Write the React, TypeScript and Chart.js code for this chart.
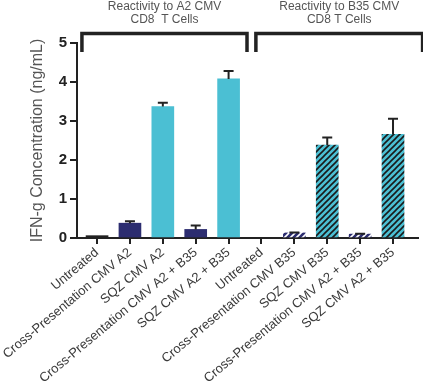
import React, { useEffect, useRef } from "react";
import { Chart, registerables } from "chart.js";

Chart.register(...registerables);

const categories = [
  "Untreated",
  "Cross-Presentation CMV A2",
  "SQZ CMV A2",
  "Cross-Presentation CMV A2 + B35",
  "SQZ CMV A2 + B35",
  "Untreated",
  "Cross-Presentation CMV B35",
  "SQZ CMV B35",
  "Cross-Presentation CMV A2 + B35",
  "SQZ CMV A2 + B35",
];
const values = [0.06, 0.38, 3.37, 0.22, 4.08, 0, 0.13, 2.38, 0.1, 2.66];
const errors = [0.0, 0.05, 0.1, 0.1, 0.2, 0, 0.01, 0.2, 0.01, 0.4];
const barKinds = ["black", "navy", "cyan", "navy", "cyan", "black", "navyHatch", "cyanHatch", "navyHatch", "cyanHatch"];
const groupTitles = [
  ["Reactivity to A2 CMV", "CD8  T Cells"],
  ["Reactivity to B35 CMV", "CD8 T Cells"],
];
const yTicks = [0, 1, 2, 3, 4, 5];

const NAVY = "#2c2d70";
const CYAN = "#4bbfd3";
const DARK = "#222222";

function makeHatch(bg: string, line: string): CanvasPattern | string {
  const c = document.createElement("canvas");
  c.width = 6;
  c.height = 6;
  const g = c.getContext("2d");
  if (!g) return bg;
  g.fillStyle = bg;
  g.fillRect(0, 0, 6, 6);
  g.strokeStyle = line;
  g.lineWidth = 1.6;
  g.beginPath();
  g.moveTo(0, 6);
  g.lineTo(6, 0);
  g.moveTo(-1, 1);
  g.lineTo(1, -1);
  g.moveTo(5, 7);
  g.lineTo(7, 5);
  g.stroke();
  const p = g.createPattern(c, "repeat");
  return p || bg;
}

export default function App() {
  const ref = useRef<HTMLCanvasElement>(null);
  useEffect(() => {
    document.body.style.margin = "0";
    const canvas = ref.current;
    if (!canvas) return;
    const colorMap: Record<string, any> = {
      black: DARK,
      navy: NAVY,
      cyan: CYAN,
      navyHatch: makeHatch(NAVY, "#ffffff"),
      cyanHatch: makeHatch(CYAN, "#1a1a1a"),
    };
    const font = "'Liberation Sans', Arial, Helvetica, sans-serif";

    const errorBars = {
      id: "errorBars",
      afterDatasetsDraw(chart: any) {
        const ctx = chart.ctx;
        const meta = chart.getDatasetMeta(0);
        const y = chart.scales.y;
        ctx.save();
        ctx.strokeStyle = "#222";
        ctx.lineWidth = 2;
        meta.data.forEach((bar: any, i: number) => {
          if (!values[i] || !errors[i]) return;
          const x = bar.x;
          const y0 = y.getPixelForValue(values[i]);
          const y1 = y.getPixelForValue(values[i] + errors[i]);
          ctx.beginPath();
          ctx.moveTo(x, y0);
          ctx.lineTo(x, y1);
          ctx.moveTo(x - 5, y1);
          ctx.lineTo(x + 5, y1);
          ctx.stroke();
        });
        ctx.restore();
      },
    };

    const brackets = {
      id: "brackets",
      afterDraw(chart: any) {
        const ctx = chart.ctx;
        const x = chart.scales.x;
        const top = chart.chartArea.top;
        const spans = [
          [-0.46, 4.56],
          [4.83, 9.9],
        ];
        ctx.save();
        ctx.strokeStyle = "#222";
        ctx.lineWidth = 3.5;
        ctx.lineCap = "butt";
        spans.forEach((s, k) => {
          const xa = x.getPixelForValue(s[0]);
          const xb = x.getPixelForValue(s[1]);
          ctx.beginPath();
          ctx.moveTo(xa, top + 9);
          ctx.lineTo(xa, top - 9.5);
          ctx.lineTo(xb, top - 9.5);
          ctx.lineTo(xb, top + 9);
          ctx.stroke();
          const cx = (xa + xb) / 2;
          ctx.fillStyle = "#555";
          ctx.font = "12px " + font;
          ctx.textAlign = "center";
          ctx.textBaseline = "middle";
          ctx.fillText(groupTitles[k][0], cx, 7);
          ctx.fillText(groupTitles[k][1], cx, 20);
        });
        ctx.restore();
      },
    };

    const chart = new Chart(canvas, {
      type: "bar",
      data: {
        datasets: [
          {
            data: values.map((v, i) => ({ x: i, y: v })),
            backgroundColor: barKinds.map((k) => colorMap[k]),
            borderWidth: 0,
            barThickness: 22,
          },
        ],
      },
      options: {
        animation: false,
        responsive: false,
        maintainAspectRatio: false,
        layout: { padding: { top: 43, right: 5, left: 0, bottom: 0 } },
        plugins: { legend: { display: false }, tooltip: { enabled: false } },
        scales: {
          x: {
            type: "linear",
            offset: false,
            min: -0.61,
            max: 9.76,
            afterBuildTicks(scale: any) {
              scale.ticks = categories.map((_, i) => ({ value: i }));
            },
            afterFit(scale: any) {
              scale.height = 392 - 238;
              scale.paddingLeft = 0;
              scale.paddingRight = 0;
            },
            border: { display: true, color: "#222", width: 2 },
            grid: { drawOnChartArea: false, drawTicks: true, tickLength: 6, color: "#222", lineWidth: 2, offset: false },
            ticks: {
              autoSkip: false,
              maxRotation: 40,
              minRotation: 40,
              padding: 1,
              color: "#3a3a3a",
              font: { family: font, size: 13 },
              callback: (v: any) => categories[v] ?? "",
            },
          },
          y: {
            min: 0,
            max: 5,
            afterBuildTicks(scale: any) {
              scale.ticks = yTicks.map((v) => ({ value: v }));
            },
            afterFit(scale: any) {
              scale.width = 77;
              scale.paddingTop = 0;
              scale.paddingBottom = 0;
            },
            border: { display: true, color: "#222", width: 2 },
            grid: { drawOnChartArea: false, drawTicks: true, tickLength: 7, color: "#222", lineWidth: 2 },
            ticks: {
              padding: 3,
              color: "#222",
              font: { family: font, size: 15, weight: "bold" },
            },
            title: {
              display: true,
              text: "IFN-g Concentration (ng/mL)",
              color: "#555",
              font: { family: font, size: 16 },
              padding: { top: 28, bottom: 0 },
            },
          },
        },
      },
      plugins: [errorBars, brackets],
    } as any);
    return () => chart.destroy();
  }, []);
  return (
    <div style={{ width: 423, height: 392 }}>
      <canvas ref={ref} width={423} height={392} style={{ width: 423, height: 392 }} />
    </div>
  );
}
